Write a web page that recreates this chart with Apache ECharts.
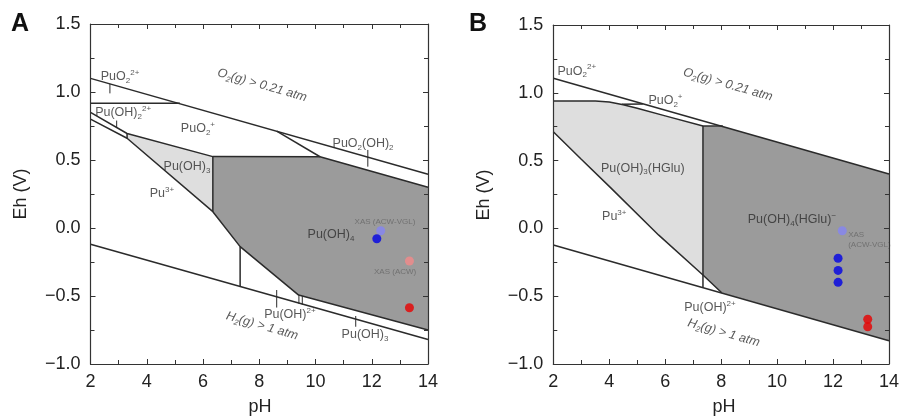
<!DOCTYPE html>
<html><head><meta charset="utf-8">
<script src="https://cdn.jsdelivr.net/npm/echarts@6/dist/echarts.min.js"></script>
<style>html,body{margin:0;padding:0;background:#fff}#c{width:902px;height:418px}</style>
</head><body><div id="c"></div>
<script>
// ---------- axes ----------
const pHRange = [2, 14];
const EhRange = [-1.0, 1.5];

// ---------- Panel A boundaries (pH, Eh) ----------
const aO2Line = [[2, 1.10], [14, 0.395]];
const aH2Line = [[2, -0.12], [14, -0.82]];
const aPuO2Line = [[2, 0.917], [5.18, 0.917]];
const aPuO2OH2Line = [[8.62, 0.713], [10.16, 0.524]];
const aUpperLine = [[2, 0.85], [3.3, 0.695], [6.35, 0.525], [10.16, 0.524], [14, 0.30]];
const aLowerLine = [[2, 0.80], [3.3, 0.66], [6.35, 0.12], [7.32, -0.137], [9.4, -0.493], [14, -0.75]];
const aVert1 = [[3.3, 0.66], [3.3, 0.695]];
const aVert2 = [[6.35, 0.12], [6.35, 0.525]];
const aVert3 = [[7.32, -0.137], [7.32, -0.433]];
const aVert4 = [[9.41, -0.494], [9.41, -0.557]];
const aVert5 = [[9.53, -0.50], [9.53, -0.564]];
const aLightRegion = [[3.3, 0.695], [6.35, 0.525], [6.35, 0.12], [3.3, 0.66]];
const aDarkRegion = [[6.35, 0.525], [10.16, 0.524], [14, 0.30], [14, -0.75], [9.4, -0.493], [7.32, -0.137], [6.35, 0.12]];
const aTick1 = [[2.69, 1.06], [2.69, 0.99]];
const aTick2 = [[2.93, 0.79], [2.93, 0.735]];
const aTick3 = [[11.86, 0.574], [11.86, 0.451]];
const aTick4 = [[8.62, -0.456], [8.62, -0.585]];
const aTick5 = [[11.43, -0.647], [11.43, -0.726]];
// measured points
const aXasVgl = [[12.32, -0.02]];
const aBlue = [[12.18, -0.079]];
const aXasAcw = [[13.34, -0.243]];
const aRed = [[13.34, -0.586]];

// ---------- Panel B boundaries ----------
const bO2Line = [[2, 1.107], [14, 0.401]];
const bH2Line = [[2, -0.122], [14, -0.828]];
const bLightTop = [[2, 0.94], [3.5, 0.94], [4, 0.932], [4.5, 0.912], [5, 0.886], [6, 0.83], [7.35, 0.755]];
const bPuO2Line = [[4.45, 0.915], [5.2, 0.918]];
const bDarkTop = [[7.35, 0.755], [8.06, 0.755]];
const bPu3Line = [[2, 0.713], [3, 0.51], [4, 0.31], [5.77, -0.05], [7.35, -0.344], [8.02, -0.474]];
const bVert = [[7.35, 0.755], [7.35, -0.434]];
const bLightRegion = [[2, 0.94], [3.5, 0.94], [4, 0.932], [4.5, 0.912], [5, 0.886], [6, 0.83], [7.35, 0.755],
                      [7.35, -0.344], [5.77, -0.05], [4, 0.31], [3, 0.51], [2, 0.713]];
const bDarkRegion = [[7.35, 0.755], [8.06, 0.751], [14, 0.401], [14, -0.828], [8.02, -0.474], [7.35, -0.344]];
const bXasVgl = [[12.33, -0.017]];
const bBlue = [[12.18, -0.22], [12.18, -0.31], [12.18, -0.398]];
const bRed = [[13.24, -0.67], [13.24, -0.725]];

// ---------- annotation texts ----------
const aLabelTexts = ['PuO{sub|2}{sup|2+}', 'O{sub|2}(g) > 0.21 atm', 'Pu(OH){sub|2}{sup|2+}', 'PuO{sub|2}{sup|+}',
  'PuO{sub|2}(OH){sub|2}', 'Pu(OH){sub|3}', 'Pu{sup|3+}', 'Pu(OH){sub|4}', 'XAS (ACW-VGL)', 'XAS (ACW)',
  'Pu(OH){sup|2+}', 'H{sub|2}(g) > 1 atm', 'Pu(OH){sub|3}'];
const bLabelTexts = ['PuO{sub|2}{sup|2+}', 'O{sub|2}(g) > 0.21 atm', 'PuO{sub|2}{sup|+}', 'Pu(OH){sub|3}(HGlu)',
  'Pu{sup|3+}', 'Pu(OH){sub|4}(HGlu){sup|−}', 'XAS\n(ACW-VGL)', 'Pu(OH){sup|2+}', 'H{sub|2}(g) > 1 atm'];
// annotation anchor positions (pH, Eh)
const aLabelPos = [[3.05, 1.11], [8.1, 1.05], [3.16, 0.846], [5.82, 0.728], [11.69, 0.618], [5.43, 0.449],
  [4.54, 0.25], [10.55, -0.051], [12.47, 0.044], [12.83, -0.324], [9.09, -0.64], [8.1, -0.72], [11.76, -0.787]];
const bLabelPos = [[2.84, 1.16], [8.24, 1.06], [6.01, 0.94], [5.2, 0.445], [4.18, 0.084], [10.53, 0.062],
  [12.54, -0.086], [7.6, -0.587], [8.09, -0.77]];

// ---------- styling ----------
const FONT = "'Liberation Sans', Arial, sans-serif";
const INK = '#2b2b2b';
const DARK = '#9b9b9b';
const LIGHT = '#dedede';

function axisCommon(isX, showLabel, gridIndex, position) {
  return {
    type: 'value', gridIndex, position,
    min: isX ? pHRange[0] : EhRange[0], max: isX ? pHRange[1] : EhRange[1],
    interval: isX ? 2 : 0.5,
    z: 10,
    axisLine: { show: true, onZero: false, lineStyle: { color: '#333', width: 1.2 } },
    axisTick: { show: true, inside: true, length: 5, lineStyle: { color: '#333', width: 1 } },
    minorTick: { show: true, splitNumber: 2, length: 4, lineStyle: { color: '#333', width: 1 } },
    splitLine: { show: false }, minorSplitLine: { show: false },
    axisLabel: {
      show: showLabel, fontFamily: FONT, fontSize: 18, color: '#222', margin: isX ? 9 : 10,
      formatter: isX ? (v => String(v)) : (v => (v < 0 ? '\u2212' : '') + Math.abs(v).toFixed(1))
    }
  };
}

function poly(pts, color, ai) {
  return {
    type: 'custom', xAxisIndex: ai, yAxisIndex: ai, z: 1, silent: true,
    data: pts,
    renderItem: (params, api) => params.dataIndex === 0 ? {
      type: 'polygon', shape: { points: pts.map(p => api.coord(p)) },
      style: { fill: color, stroke: null }
    } : null
  };
}
function line(pts, ai, w) {
  return {
    type: 'line', xAxisIndex: ai, yAxisIndex: ai, data: pts, symbol: 'none', silent: true, z: 3,
    lineStyle: { color: INK, width: w || 1.5 }
  };
}
function dots(pts, color, ai) {
  return { type: 'scatter', xAxisIndex: ai, yAxisIndex: ai, data: pts, symbolSize: 9, itemStyle: { color }, z: 5, silent: true };
}
const rich = {
  sub: { fontSize: 8, lineHeight: 8, verticalAlign: 'bottom', fontFamily: FONT, color: '#2e2e2e' },
  sup: { fontSize: 8, lineHeight: 8, verticalAlign: 'top', fontFamily: FONT, color: '#2e2e2e' }
};
function labelSeries(texts, pos, ai, opts) {
  const data = texts.map((t, i) => {
    const o = opts[i] || {};
    const item = { value: pos[i], txt: t, label: {} };
    if (o.rot) item.label.rotate = o.rot;
    if (o.italic) item.label.fontStyle = 'italic';
    if (o.small) { item.label.fontSize = 8; item.label.color = '#666'; item.label.lineHeight = 10; }
    if (o.left) { item.label.position = 'right'; item.label.distance = 0; item.label.align = 'left'; }
    return item;
  });
  return {
    type: 'scatter', xAxisIndex: ai, yAxisIndex: ai, data, symbolSize: 0,
    itemStyle: { color: 'rgba(0,0,0,0)' }, z: 6, silent: true,
    label: { show: true, position: 'inside', formatter: p => p.data.txt, fontFamily: FONT, fontSize: 12.5, lineHeight: 16, color: '#2e2e2e', rich }
  };
}
const aOpts = { 1: { rot: -16, italic: true }, 8: { small: true }, 9: { small: true }, 11: { rot: -16, italic: true } };
const bOpts = { 1: { rot: -16, italic: true }, 6: { small: true, left: true }, 8: { rot: -16, italic: true } };

const chart = echarts.init(document.getElementById('c'));
chart.setOption({
  animation: false,
  backgroundColor: '#fff',
  grid: [
    { left: 90.5, right: 474, top: 24, bottom: 54 },
    { left: 553.3, right: 8.7, top: 25, bottom: 54 }
  ],
  xAxis: [
    axisCommon(true, true, 0, 'bottom'), axisCommon(true, false, 0, 'top'),
    axisCommon(true, true, 1, 'bottom'), axisCommon(true, false, 1, 'top')
  ],
  yAxis: [
    axisCommon(false, true, 0, 'left'), axisCommon(false, false, 0, 'right'),
    axisCommon(false, true, 1, 'left'), axisCommon(false, false, 1, 'right')
  ],
  graphic: [
    { type: 'text', left: 11, top: 12, style: { text: 'A', font: "bold 25px " + FONT, fill: '#111' } },
    { type: 'text', left: 469, top: 12, style: { text: 'B', font: "bold 25px " + FONT, fill: '#111' } },
    { type: 'text', x: 21, y: 194, rotation: Math.PI / 2, style: { text: 'Eh (V)', font: "18px " + FONT, fill: '#222', textAlign: 'center', textVerticalAlign: 'middle' } },
    { type: 'text', x: 484, y: 195, rotation: Math.PI / 2, style: { text: 'Eh (V)', font: "18px " + FONT, fill: '#222', textAlign: 'center', textVerticalAlign: 'middle' } },
    { type: 'text', x: 260, y: 407, style: { text: 'pH', font: "18px " + FONT, fill: '#222', textAlign: 'center', textVerticalAlign: 'middle' } },
    { type: 'text', x: 724, y: 407, style: { text: 'pH', font: "18px " + FONT, fill: '#222', textAlign: 'center', textVerticalAlign: 'middle' } }
  ],
  series: [
    poly(aLightRegion, LIGHT, 0), poly(aDarkRegion, DARK, 0),
    line(aO2Line, 0), line(aH2Line, 0), line(aPuO2Line, 0), line(aPuO2OH2Line, 0),
    line(aUpperLine, 0), line(aLowerLine, 0),
    line(aVert1, 0), line(aVert2, 0), line(aVert3, 0), line(aVert4, 0, 1), line(aVert5, 0, 1),
    line(aTick1, 0, 1), line(aTick2, 0, 1), line(aTick3, 0, 1), line(aTick4, 0, 1), line(aTick5, 0, 1),
    dots(aXasVgl, '#8484f4', 0), dots(aBlue, '#0000e6', 0), dots(aXasAcw, '#f48a8a', 0), dots(aRed, '#e80000', 0),
    labelSeries(aLabelTexts, aLabelPos, 0, aOpts),

    poly(bLightRegion, LIGHT, 2), poly(bDarkRegion, DARK, 2),
    line(bO2Line, 2), line(bH2Line, 2), line(bLightTop, 2), line(bPuO2Line, 2), line(bDarkTop, 2),
    line(bPu3Line, 2), line(bVert, 2),
    dots(bXasVgl, '#8484f4', 2), dots(bBlue, '#0000e6', 2), dots(bRed, '#e80000', 2),
    labelSeries(bLabelTexts, bLabelPos, 2, bOpts)
  ]
});
</script></body></html>
